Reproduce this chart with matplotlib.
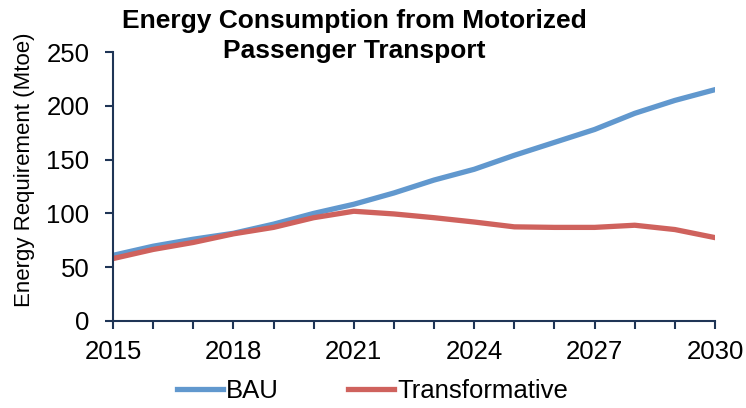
import matplotlib
matplotlib.use("Agg")
import matplotlib.pyplot as plt
from matplotlib.ticker import FixedLocator, MultipleLocator

years = list(range(2015, 2031))
bau = [61, 69.5, 76, 81.5, 90, 100, 108.5, 119, 131, 141, 154, 166, 178, 193, 205, 215]
transformative = [58, 66.5, 73, 81, 87, 96, 102, 99.5, 96, 92, 87.5, 87, 87, 89, 85, 77.5]
year_ticks = [2015, 2018, 2021, 2024, 2027, 2030]
series_names = ["BAU", "Transformative"]
title_lines = ["Energy Consumption from Motorized", "Passenger Transport"]
ylabel_text = "Energy Requirement (Mtoe)"

blue = "#6198CE"
red = "#CF625D"
axis_color = "#1F3556"
font = ["Liberation Sans", "DejaVu Sans"]

W, H = 746, 408
fig = plt.figure(figsize=(W / 100, H / 100), dpi=100)
ax = fig.add_axes([113 / W, 1 - 321 / H, (715 - 113) / W, (321 - 52) / H])

ax.plot(years, bau, color=blue, lw=3.8, label=series_names[0])
ax.plot(years, transformative, color=red, lw=3.8, label=series_names[1])

ax.set_xlim(2015, 2030)
ax.set_ylim(0, 250)
ax.xaxis.set_major_locator(FixedLocator(year_ticks))
ax.xaxis.set_minor_locator(MultipleLocator(1))
ax.yaxis.set_major_locator(MultipleLocator(50))

for s in ["top", "right"]:
    ax.spines[s].set_visible(False)
for s in ["left", "bottom"]:
    ax.spines[s].set_color(axis_color)
    ax.spines[s].set_linewidth(1.5)

ax.tick_params(axis="both", which="both", direction="out", color=axis_color, width=1.5)
ax.tick_params(axis="y", length=6, pad=11)
ax.tick_params(axis="x", which="both", length=6, pad=8)
for lbl in ax.get_xticklabels() + ax.get_yticklabels():
    lbl.set_fontfamily(font)
    lbl.set_fontsize(18.5)

ax.set_ylabel(ylabel_text, fontfamily=font, fontsize=16)
ax.yaxis.set_label_coords((35 - 113) / 602, (321 - 170) / 269)

fig.text(354.5 / W, 1 - 28 / H, title_lines[0], ha="center", va="baseline",
         fontfamily=font, fontsize=19, fontweight="bold")
fig.text(354.5 / W, 1 - 58 / H, title_lines[1], ha="center", va="baseline",
         fontfamily=font, fontsize=19, fontweight="bold")

fig.legend(loc="center left", bbox_to_anchor=(177 / W, 1 - 391 / H), ncol=2, frameon=False,
           prop={"family": font, "size": 18.5},
           handlelength=1.8, handletextpad=0.1, columnspacing=2.7,
           borderpad=0.0, borderaxespad=0.0)

fig.savefig("out.png", dpi=100)
